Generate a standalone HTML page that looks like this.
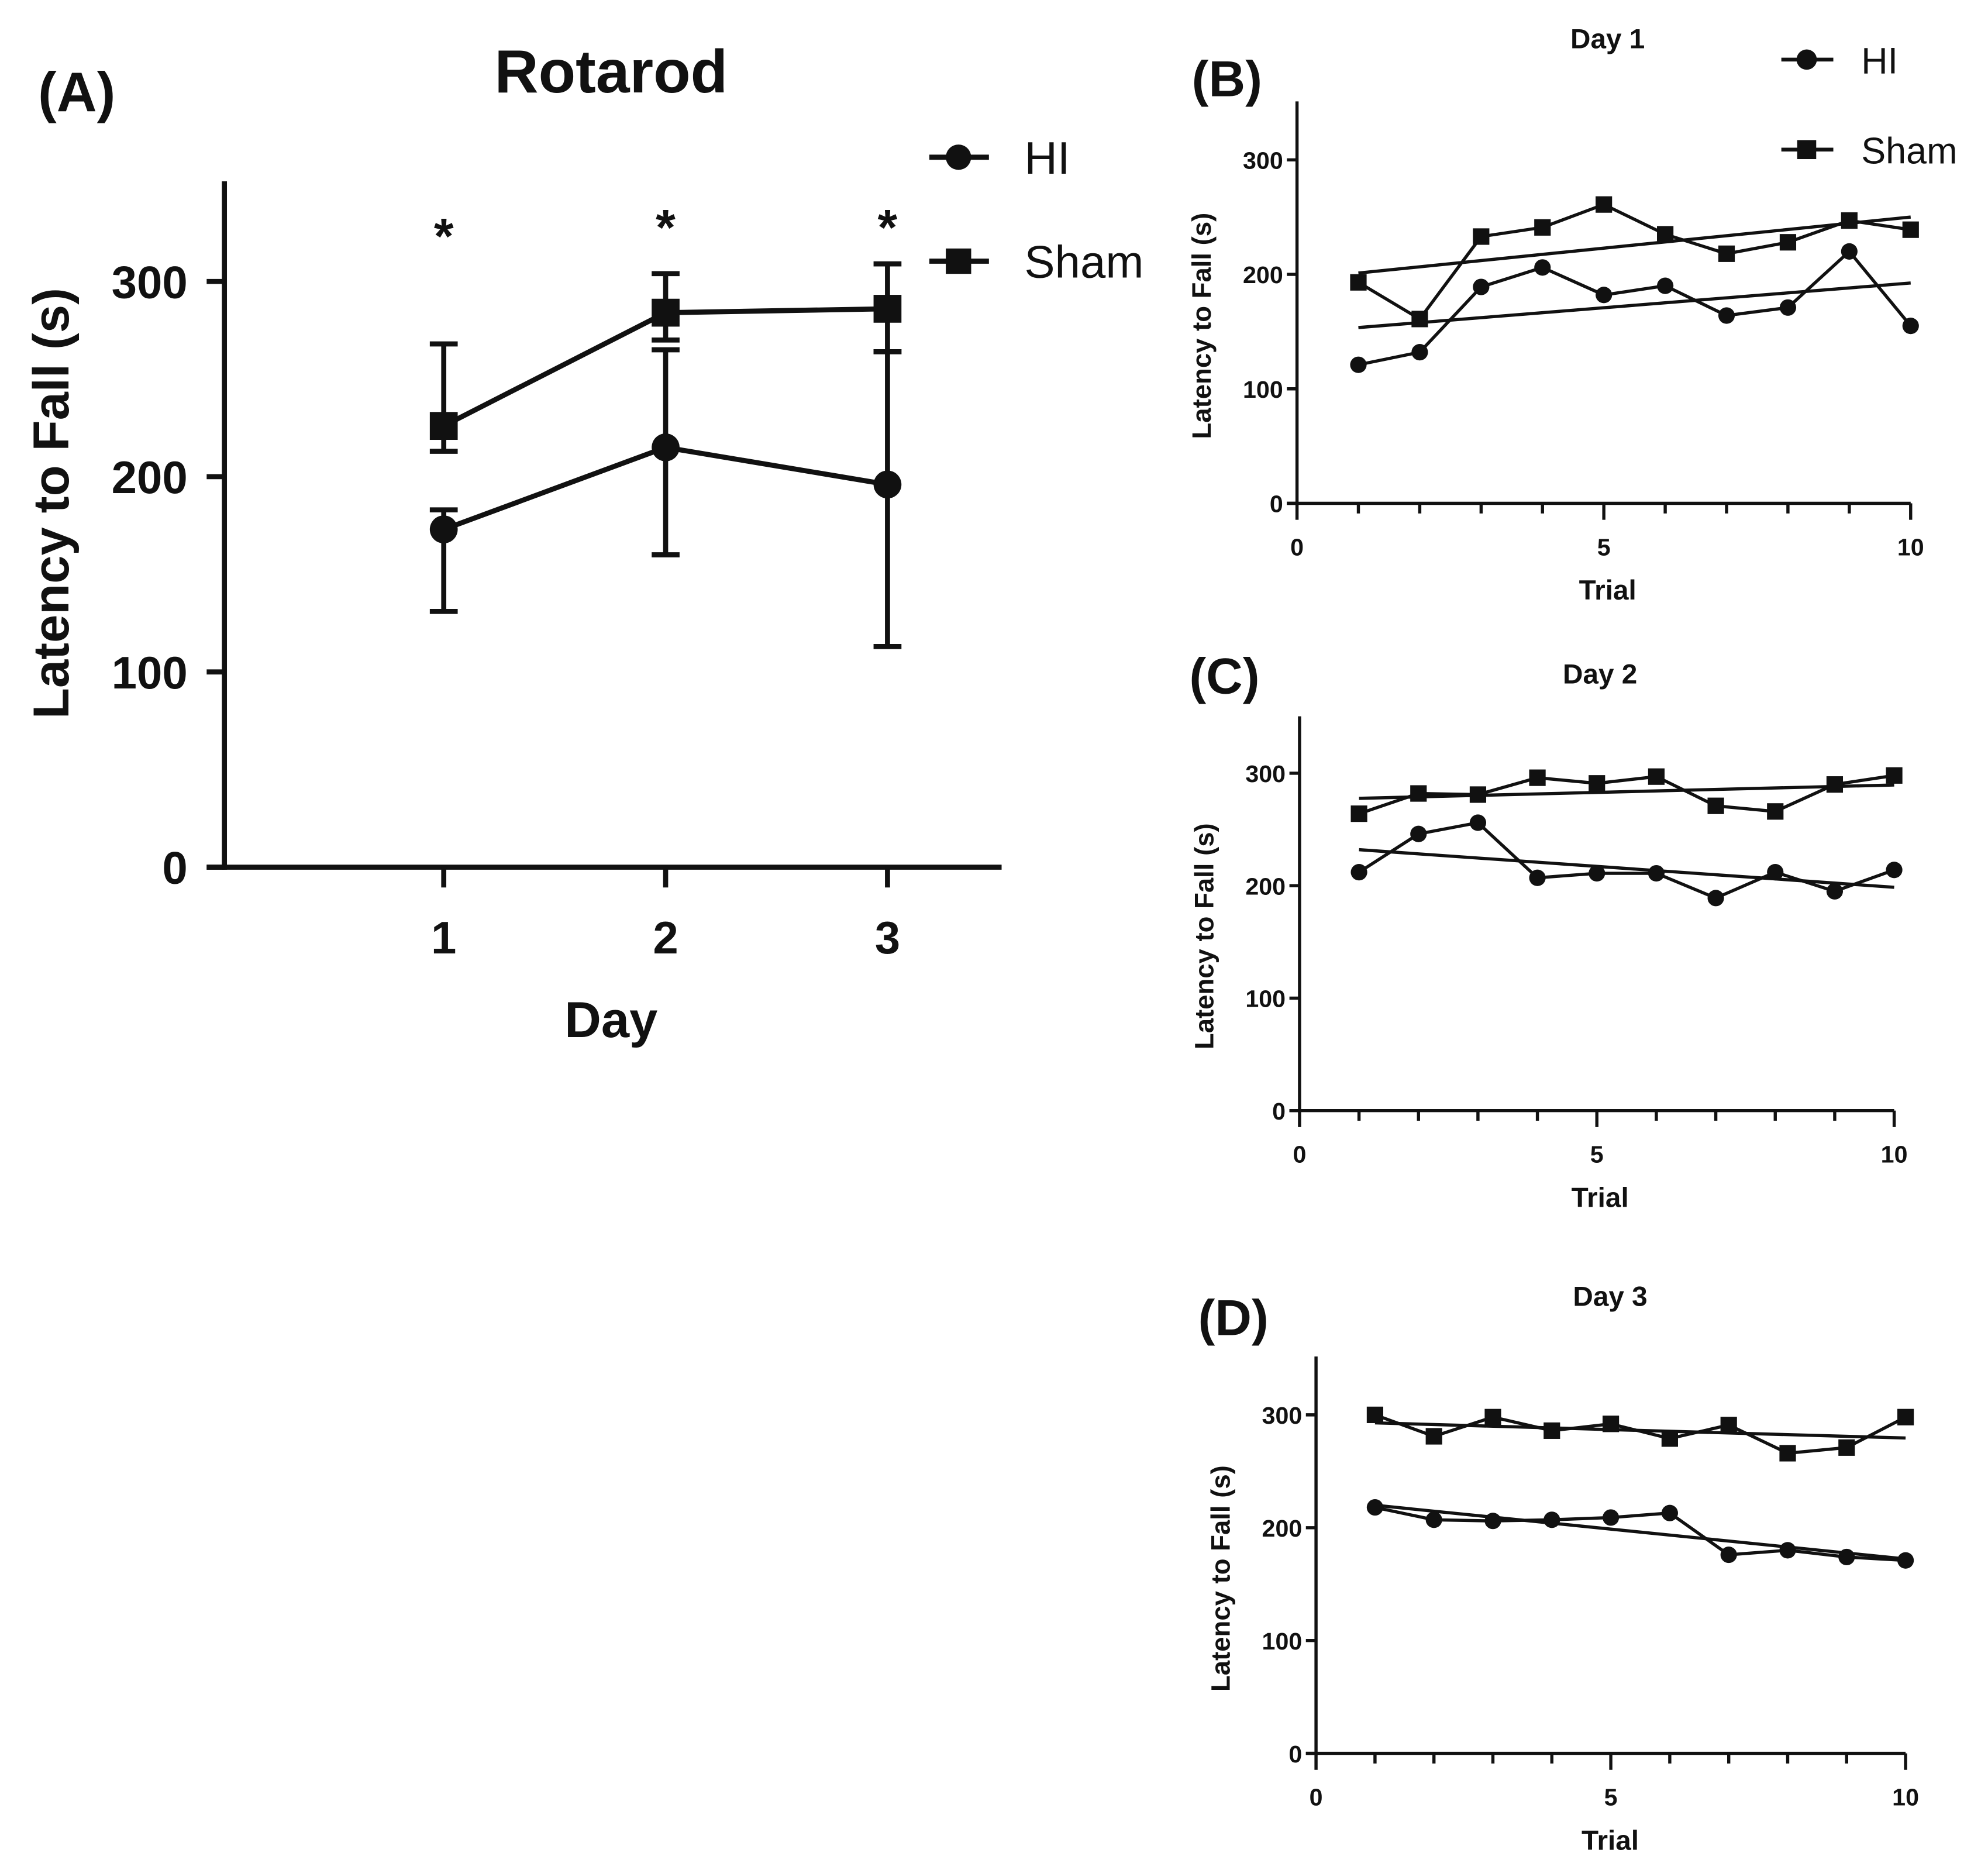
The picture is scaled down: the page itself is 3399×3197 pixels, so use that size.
<!DOCTYPE html>
<html><head><meta charset="utf-8"><style>
html,body{margin:0;padding:0;background:#fff;}
svg{display:block;}
text{font-family:"Liberation Sans",Arial,sans-serif;fill:#111;}
</style></head>
<body>
<svg id="fig" width="3399" height="3197" viewBox="0 0 1568 1475" preserveAspectRatio="none" xmlns="http://www.w3.org/2000/svg"></svg>
<script>
// ---- Panel A data ----
const daysA = [1, 2, 3];
const hiMeanA = [173, 215, 196];
const hiUpA = [183, 265, 264];
const hiLoA = [131, 160, 113];
const shamMeanA = [226, 284, 286];
const shamUpA = [268, 304, 309];
const shamLoA = [213, 270, 264];
const yTicksA = [0, 100, 200, 300];
const xTicksA = [1, 2, 3];
// ---- Panels B-D data ----
const trials = [1,2,3,4,5,6,7,8,9,10];
const hiDay1 = [121,132,189,206,182,190,164,171,220,155];
const shamDay1 = [193,161,233,241,261,235,218,228,247,239];
const hiDay2 = [212,246,256,207,211,211,189,212,195,214];
const shamDay2 = [264,282,281,296,291,297,271,266,290,298];
const hiDay3 = [218,207,206,207,209,213,176,180,174,171];
const shamDay3 = [300,281,298,286,292,279,291,266,271,298];
const yTicksSmall = [0, 100, 200, 300];
const xTicksSmall = [0, 5, 10];

const NS = "http://www.w3.org/2000/svg";
const svg = document.getElementById('fig');
function el(tag, attrs, parent, txt){
  const e = document.createElementNS(NS, tag);
  for (const k in attrs) e.setAttribute(k, attrs[k]);
  if (txt !== undefined) e.textContent = txt;
  (parent || svg).appendChild(e);
  return e;
}
function fitLine(xs, ys){
  const n = xs.length; let sx=0, sy=0, sxx=0, sxy=0;
  for (let i=0;i<n;i++){ sx+=xs[i]; sy+=ys[i]; sxx+=xs[i]*xs[i]; sxy+=xs[i]*ys[i]; }
  const b = (n*sxy - sx*sy)/(n*sxx - sx*sx); const a = (sy - b*sx)/n;
  return x => a + b*x;
}
function circle(g, cx, cy, r, name){
  const c = el('circle', {cx:cx, cy:cy, r:r, fill:'#111'}, g);
  
  
}
function square(g, cx, cy, s, name){
  const r = el('rect', {x:cx-s/2, y:cy-s/2, width:s, height:s, fill:'#111'}, g);
  
  
}

// ================= Panel A =================
(function(){
  const g = el('g', {});
  
  
  const x = d => 350 + (d-1)*175;
  const y = v => 684 - v*1.54;
  const sw = 4;
  let t;
  t = el('text', {x:30, y:88, 'font-size':44, 'font-weight':'bold'}, g, '(A)');
   
  t = el('text', {x:482, y:73, 'font-size':48, 'font-weight':'bold', 'text-anchor':'middle'}, g, 'Rotarod');
   
  // axes
  el('line', {x1:177, y1:143, x2:177, y2:686, stroke:'#111', 'stroke-width':sw}, g);
  el('line', {x1:163, y1:684, x2:790, y2:684, stroke:'#111', 'stroke-width':sw}, g);
  yTicksA.forEach(v => {
    el('line', {x1:163, y1:y(v), x2:177, y2:y(v), stroke:'#111', 'stroke-width':sw}, g);
    const tt = el('text', {x:148, y:y(v)+13, 'font-size':36, 'font-weight':'bold', 'text-anchor':'end'}, g, String(v));
     
  });
  xTicksA.forEach(d => {
    el('line', {x1:x(d), y1:684, x2:x(d), y2:700, stroke:'#111', 'stroke-width':sw}, g);
    const tt = el('text', {x:x(d), y:752, 'font-size':36, 'font-weight':'bold', 'text-anchor':'middle'}, g, String(d));
     
  });
  t = el('text', {x:482, y:818, 'font-size':40, 'font-weight':'bold', 'text-anchor':'middle'}, g, 'Day');
   
  t = el('text', {x:0, y:0, 'font-size':40, 'font-weight':'bold', 'text-anchor':'middle', transform:'translate(54,397) rotate(-90)'}, g, 'Latency to Fall (s)');
   
  // error bars
  function errs(mean, up, lo, nm){
    daysA.forEach((d,i) => {
      const e = el('g', {}, g);
      
      
      el('line', {x1:x(d), y1:y(up[i]), x2:x(d), y2:y(lo[i]), stroke:'#111', 'stroke-width':sw}, e);
      el('line', {x1:x(d)-11, y1:y(up[i]), x2:x(d)+11, y2:y(up[i]), stroke:'#111', 'stroke-width':sw}, e);
      el('line', {x1:x(d)-11, y1:y(lo[i]), x2:x(d)+11, y2:y(lo[i]), stroke:'#111', 'stroke-width':sw}, e);
    });
  }
  errs(hiMeanA, hiUpA, hiLoA, 'hi');
  errs(shamMeanA, shamUpA, shamLoA, 'sham');
  let p = el('polyline', {points: daysA.map((d,i)=>x(d)+','+y(hiMeanA[i])).join(' '), fill:'none', stroke:'#111', 'stroke-width':sw}, g);
  
  p = el('polyline', {points: daysA.map((d,i)=>x(d)+','+y(shamMeanA[i])).join(' '), fill:'none', stroke:'#111', 'stroke-width':sw}, g);
  
  daysA.forEach((d,i) => { circle(g, x(d), y(hiMeanA[i]), 11, 'hi-point'); square(g, x(d), y(shamMeanA[i]), 22, 'sham-point'); });
  // significance stars
  [[1,186],[2,179],[3,179]].forEach(s => {
    const st = el('text', {x:x(s[0]), y:s[1]+14, 'font-size':40, 'font-weight':'bold', 'text-anchor':'middle'}, g, '*');
     
  });
  // legend
  const l1 = el('g', {}, g);  
  el('line', {x1:733, y1:124, x2:780, y2:124, stroke:'#111', 'stroke-width':sw}, l1);
  circle(l1, 756, 124, 10, 'legend-marker-hi');
  el('text', {x:808, y:137, 'font-size':36}, l1, 'HI');
  const l2 = el('g', {}, g);  
  el('line', {x1:733, y1:206, x2:780, y2:206, stroke:'#111', 'stroke-width':sw}, l2);
  square(l2, 756, 206, 20, 'legend-marker-sham');
  el('text', {x:808, y:219, 'font-size':36}, l2, 'Sham');
})();

// ================= Small panels =================
function smallPanel(cfg){
  const g = el('g', {});
  
  
  const x = v => cfg.x0 + v*cfg.xs;
  const y = v => cfg.y0 - v*cfg.ys;
  const sw = 2.5;
  let t;
  t = el('text', {x:cfg.lx, y:cfg.ly, 'font-size':40, 'font-weight':'bold'}, g, cfg.letter);
   
  t = el('text', {x:cfg.cx, y:cfg.ty, 'font-size':22, 'font-weight':'bold', 'text-anchor':'middle'}, g, cfg.title);
   
  el('line', {x1:cfg.x0, y1:cfg.top, x2:cfg.x0, y2:cfg.y0+1, stroke:'#111', 'stroke-width':sw}, g);
  el('line', {x1:cfg.x0-8, y1:cfg.y0, x2:x(10), y2:cfg.y0, stroke:'#111', 'stroke-width':sw}, g);
  yTicksSmall.forEach(v => {
    el('line', {x1:cfg.x0-8, y1:y(v), x2:cfg.x0, y2:y(v), stroke:'#111', 'stroke-width':sw}, g);
    const tt = el('text', {x:cfg.x0-11, y:y(v)+7, 'font-size':19, 'font-weight':'bold', 'text-anchor':'end'}, g, String(v));
     
  });
  for (let i=0;i<=10;i++){
    const major = xTicksSmall.includes(i);
    el('line', {x1:x(i), y1:cfg.y0, x2:x(i), y2:cfg.y0+(major?13:8), stroke:'#111', 'stroke-width':sw}, g);
  }
  xTicksSmall.forEach(v => {
    const tt = el('text', {x:x(v), y:cfg.y0+41, 'font-size':19, 'font-weight':'bold', 'text-anchor':'middle'}, g, String(v));
     
  });
  t = el('text', {x:cfg.cx, y:cfg.y0+76, 'font-size':22, 'font-weight':'bold', 'text-anchor':'middle'}, g, 'Trial');
   
  t = el('text', {x:0, y:0, 'font-size':21, 'font-weight':'bold', 'text-anchor':'middle', transform:'translate('+(cfg.x0-68)+','+(y(155))+') rotate(-90)'}, g, 'Latency to Fall (s)');
   
  [[cfg.hi,'hi'],[cfg.sham,'sham']].forEach(s => {
    const f = fitLine(trials, s[0]);
    const tl = el('line', {x1:x(1), y1:y(f(1)), x2:x(10), y2:y(f(10)), stroke:'#111', 'stroke-width':sw}, g);
    
    const pl = el('polyline', {points: trials.map((tr,i)=>x(tr)+','+y(s[0][i])).join(' '), fill:'none', stroke:'#111', 'stroke-width':sw}, g);
    
    trials.forEach((tr,i) => {
      if (s[1]==='hi') circle(g, x(tr), y(s[0][i]), 6.5, 'hi-point');
      else square(g, x(tr), y(s[0][i]), 13, 'sham-point');
    });
  });
  if (cfg.legend){
    const l1 = el('g', {}, g);  
    el('line', {x1:1405, y1:47, x2:1446, y2:47, stroke:'#111', 'stroke-width':3}, l1);
    circle(l1, 1425, 47, 8, 'legend-marker-hi');
    el('text', {x:1468, y:58, 'font-size':29}, l1, 'HI');
    const l2 = el('g', {}, g);  
    el('line', {x1:1405, y1:118, x2:1446, y2:118, stroke:'#111', 'stroke-width':3}, l2);
    square(l2, 1425, 118, 15, 'legend-marker-sham');
    el('text', {x:1468, y:129, 'font-size':29}, l2, 'Sham');
  }
}
smallPanel({name:'panel-b-day1', letter:'(B)', title:'Day 1', hi:hiDay1, sham:shamDay1,
  x0:1023, xs:48.4, y0:397, ys:0.903, top:80, lx:940, ly:76, cx:1268, ty:38, legend:true});
smallPanel({name:'panel-c-day2', letter:'(C)', title:'Day 2', hi:hiDay2, sham:shamDay2,
  x0:1025, xs:46.9, y0:876, ys:0.887, top:565, lx:938, ly:547, cx:1262, ty:539, legend:false});
smallPanel({name:'panel-d-day3', letter:'(D)', title:'Day 3', hi:hiDay3, sham:shamDay3,
  x0:1038, xs:46.5, y0:1383, ys:0.89, top:1070, lx:945, ly:1053, cx:1270, ty:1030, legend:false});
</script>
</body></html>
